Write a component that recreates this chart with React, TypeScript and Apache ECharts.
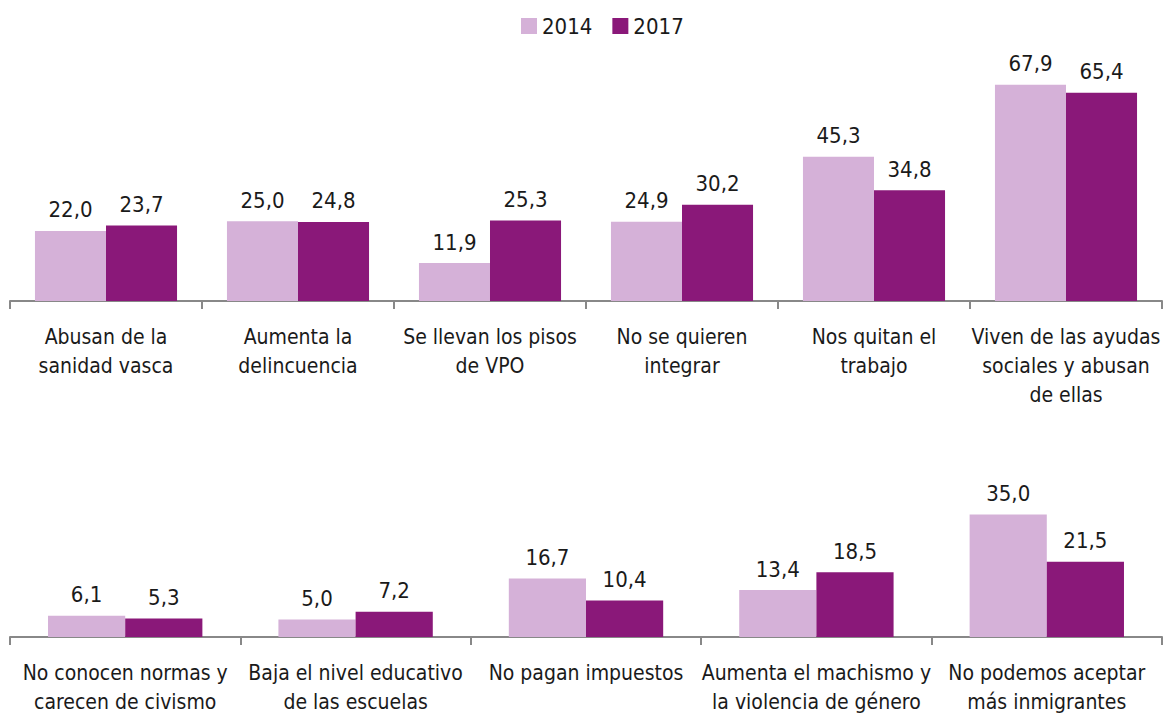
import React, { useEffect, useRef } from "react";
import * as echarts from "echarts";

const topCategories = [
  "Abusan de la\nsanidad vasca",
  "Aumenta la\ndelincuencia",
  "Se llevan los pisos\nde VPO",
  "No se quieren\nintegrar",
  "Nos quitan el\ntrabajo",
  "Viven de las ayudas\nsociales y abusan\nde ellas",
];
const top2014 = [22.0, 25.0, 11.9, 24.9, 45.3, 67.9];
const top2017 = [23.7, 24.8, 25.3, 30.2, 34.8, 65.4];

const bottomCategories = [
  "No conocen normas y\ncarecen de civismo",
  "Baja el nivel educativo\nde las escuelas",
  "No pagan impuestos",
  "Aumenta el machismo y\nla violencia de género",
  "No podemos aceptar\nmás inmigrantes",
];
const bottom2014 = [6.1, 5.0, 16.7, 13.4, 35.0];
const bottom2017 = [5.3, 7.2, 10.4, 18.5, 21.5];

const seriesNames = ["2014", "2017"];
const colors = ["#D5B1D8", "#8A1879"];

const FONT = "'DejaVu Sans Condensed', 'Liberation Sans Narrow', sans-serif";

export default function App() {
  const ref = useRef<HTMLDivElement>(null);
  useEffect(() => {
    document.body.style.margin = "0";
    const chart = echarts.init(ref.current!, null, { renderer: "svg" });
    const fmt = (p: any) => Number(p.value).toFixed(1).replace(".", ",");
    const label = {
      show: true,
      position: "top" as const,
      distance: 10,
      formatter: fmt,
      fontFamily: FONT,
      fontSize: 22,
      color: "#1a1a1a",
    };
    const xAxisCommon = {
      type: "category" as const,
      axisLine: { lineStyle: { color: "#888888", width: 2 } },
      axisTick: { show: true, length: 8, lineStyle: { color: "#888888", width: 2 } },
      axisLabel: {
        interval: 0,
        fontFamily: FONT,
        fontSize: 21,
        color: "#1a1a1a",
        lineHeight: 29,
        margin: 21,
      },
    };
    const yAxisCommon = {
      type: "value" as const,
      min: 0,
      show: false,
      splitLine: { show: false },
    };
    chart.setOption({
      animation: false,
      color: colors,
      legend: {
        data: seriesNames,
        top: 10,
        left: 516,
        itemWidth: 16,
        itemHeight: 16,
        itemGap: 20,
        icon: "rect",
        textStyle: { fontFamily: FONT, fontSize: 22, color: "#1a1a1a" },
      },
      grid: [
        { left: 10, right: 4, top: 78, height: 223 },
        { left: 10, right: 4, top: 497, height: 140 },
      ],
      xAxis: [
        { ...xAxisCommon, gridIndex: 0, data: topCategories },
        { ...xAxisCommon, gridIndex: 1, data: bottomCategories },
      ],
      yAxis: [
        { ...yAxisCommon, gridIndex: 0, max: 70 },
        { ...yAxisCommon, gridIndex: 1, max: 40 },
      ],
      series: [
        {
          name: seriesNames[0], type: "bar", xAxisIndex: 0, yAxisIndex: 0,
          data: top2014, barGap: "0%", barCategoryGap: "26%", label,
          itemStyle: { color: colors[0] },
        },
        {
          name: seriesNames[1], type: "bar", xAxisIndex: 0, yAxisIndex: 0,
          data: top2017, barGap: "0%", barCategoryGap: "26%", label,
          itemStyle: { color: colors[1] },
        },
        {
          name: seriesNames[0], type: "bar", xAxisIndex: 1, yAxisIndex: 1,
          data: bottom2014, barGap: "0%", barCategoryGap: "33%", label,
          itemStyle: { color: colors[0] },
        },
        {
          name: seriesNames[1], type: "bar", xAxisIndex: 1, yAxisIndex: 1,
          data: bottom2017, barGap: "0%", barCategoryGap: "33%", label,
          itemStyle: { color: colors[1] },
        },
      ],
    });
    return () => chart.dispose();
  }, []);
  return <div ref={ref} style={{ width: 1166, height: 716 }} />;
}
